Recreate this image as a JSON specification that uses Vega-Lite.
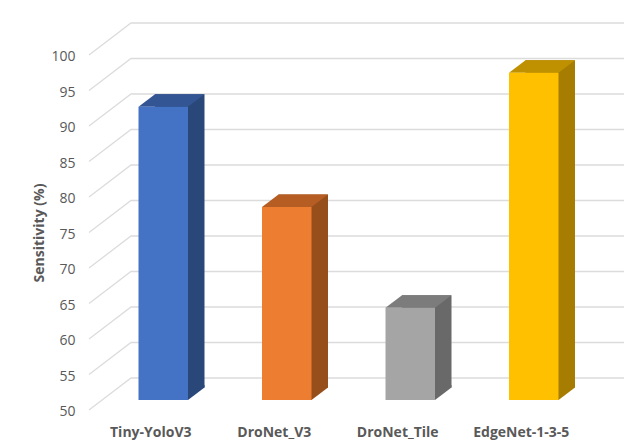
{
  "$schema": "https://vega.github.io/schema/vega-lite/v6.json",
  "width": 494,
  "height": 355,
  "autosize": "none",
  "padding": {"left": 89, "top": 55, "right": 41, "bottom": 34},
  "background": "white",
  "config": {"view": {"stroke": null}},
  "datasets": {
    "bars": [
      {"model": "Tiny-YoloV3", "sensitivity": 91.3},
      {"model": "DroNet_V3", "sensitivity": 77.2},
      {"model": "DroNet_Tile", "sensitivity": 63},
      {"model": "EdgeNet-1-3-5", "sensitivity": 96.1}
    ],
    "ticks": [
      {"tick": 50}, {"tick": 55}, {"tick": 60}, {"tick": 65}, {"tick": 70}, {"tick": 75},
      {"tick": 80}, {"tick": 85}, {"tick": 90}, {"tick": 95}, {"tick": 100}
    ]
  },
  "resolve": {"scale": {"color": "independent"}},
  "layer": [
    {
      "mark": {"type": "rule", "stroke": "#eeeeee", "strokeWidth": 1, "clip": false},
      "encoding": {"x": {"value": -83.5}, "y": {"value": -52}, "y2": {"value": 389}}
    },
    {
      "data": {"name": "ticks"},
      "mark": {"type": "point", "shape": "M0 0L42 -32L536 -32", "size": 4, "filled": false, "stroke": "#dcdcdc", "strokeWidth": 1.3, "opacity": 1, "clip": false},
      "encoding": {
        "x": {"value": 0},
        "y": {"field": "tick", "type": "quantitative", "scale": {"domain": [50, 100], "zero": false, "nice": false},
          "axis": {"values": [50, 55, 60, 65, 70, 75, 80, 85, 90, 95, 100], "title": "Sensitivity (%)", "titleFont": "Open Sans", "titleFontSize": 14, "titleFontWeight": "bold", "titleColor": "#595959", "titlePadding": 4, "labelFont": "Open Sans", "labelFontSize": 14, "labelColor": "#595959", "labelPadding": 14, "labelOffset": 1.5, "labelOverlap": false, "labelFlush": false, "domain": false, "ticks": false, "grid": false}}
      }
    },
    {
      "data": {"name": "bars"},
      "mark": {"type": "bar", "width": 49.5, "xOffset": 29, "x2Offset": 29, "yOffset": -22.5, "y2Offset": -22.5},
      "encoding": {
        "x": {"field": "model", "type": "nominal", "sort": null, "scale": {"paddingInner": 0, "paddingOuter": 0},
          "axis": {"title": null, "labelAngle": 0, "labelFont": "Open Sans", "labelFontSize": 14, "labelFontWeight": "bold", "labelColor": "#595959", "labelPadding": 15, "labelOverlap": false, "domain": false, "ticks": false, "grid": false}},
        "y": {"field": "sensitivity", "type": "quantitative",
          "axis": {"values": [50, 55, 60, 65, 70, 75, 80, 85, 90, 95, 100], "title": "Sensitivity (%)", "titleFont": "Open Sans", "titleFontSize": 14, "titleFontWeight": "bold", "titleColor": "#595959", "titlePadding": 4, "labelFont": "Open Sans", "labelFontSize": 14, "labelColor": "#595959", "labelPadding": 14, "labelOffset": 1.5, "labelOverlap": false, "labelFlush": false, "domain": false, "ticks": false, "grid": false}},
        "y2": {"datum": 50},
        "color": {"field": "model", "type": "nominal", "legend": null, "scale": {"domain": ["Tiny-YoloV3", "DroNet_V3", "DroNet_Tile", "EdgeNet-1-3-5"], "range": ["#2A4779", "#964F1B", "#696969", "#A67D00"]}}
      }
    },
    {
      "data": {"name": "bars"},
      "mark": {"type": "point", "shape": "M24 0L24.75 0L41.25 -12.5L41.25 -15L24 -15Z", "size": 4, "filled": true, "opacity": 1, "xOffset": 12.5, "yOffset": -10},
      "encoding": {
        "x": {"field": "model", "type": "nominal", "sort": null},
        "y": {"datum": 50, "type": "quantitative",
          "axis": {"values": [50, 55, 60, 65, 70, 75, 80, 85, 90, 95, 100], "title": "Sensitivity (%)", "titleFont": "Open Sans", "titleFontSize": 14, "titleFontWeight": "bold", "titleColor": "#595959", "titlePadding": 4, "labelFont": "Open Sans", "labelFontSize": 14, "labelColor": "#595959", "labelPadding": 14, "labelOffset": 1.5, "labelOverlap": false, "labelFlush": false, "domain": false, "ticks": false, "grid": false}},
        "color": {"field": "model", "type": "nominal", "legend": null, "scale": {"domain": ["Tiny-YoloV3", "DroNet_V3", "DroNet_Tile", "EdgeNet-1-3-5"], "range": ["#2A4779", "#964F1B", "#696969", "#A67D00"]}}
      }
    },
    {
      "data": {"name": "bars"},
      "mark": {"type": "point", "shape": "M-24.75 0L24.75 0L41.25 -12.5L-8.25 -12.5Z", "size": 4, "filled": true, "opacity": 1, "xOffset": 12.5, "yOffset": -10},
      "encoding": {
        "x": {"field": "model", "type": "nominal", "sort": null},
        "y": {"field": "sensitivity", "type": "quantitative",
          "axis": {"values": [50, 55, 60, 65, 70, 75, 80, 85, 90, 95, 100], "title": "Sensitivity (%)", "titleFont": "Open Sans", "titleFontSize": 14, "titleFontWeight": "bold", "titleColor": "#595959", "titlePadding": 4, "labelFont": "Open Sans", "labelFontSize": 14, "labelColor": "#595959", "labelPadding": 14, "labelOffset": 1.5, "labelOverlap": false, "labelFlush": false, "domain": false, "ticks": false, "grid": false}},
        "color": {"field": "model", "type": "nominal", "legend": null, "scale": {"domain": ["Tiny-YoloV3", "DroNet_V3", "DroNet_Tile", "EdgeNet-1-3-5"], "range": ["#335593", "#B55D22", "#7C7C7C", "#BF9000"]}}
      }
    },
    {
      "data": {"name": "bars"},
      "mark": {"type": "bar", "width": 49.5, "xOffset": 12.5, "x2Offset": 12.5, "yOffset": -10, "y2Offset": -10},
      "encoding": {
        "x": {"field": "model", "type": "nominal", "sort": null},
        "y": {"field": "sensitivity", "type": "quantitative",
          "axis": {"values": [50, 55, 60, 65, 70, 75, 80, 85, 90, 95, 100], "title": "Sensitivity (%)", "titleFont": "Open Sans", "titleFontSize": 14, "titleFontWeight": "bold", "titleColor": "#595959", "titlePadding": 4, "labelFont": "Open Sans", "labelFontSize": 14, "labelColor": "#595959", "labelPadding": 14, "labelOffset": 1.5, "labelOverlap": false, "labelFlush": false, "domain": false, "ticks": false, "grid": false}},
        "y2": {"datum": 50},
        "color": {"field": "model", "type": "nominal", "legend": null, "scale": {"domain": ["Tiny-YoloV3", "DroNet_V3", "DroNet_Tile", "EdgeNet-1-3-5"], "range": ["#4472C4", "#ED7D31", "#A5A5A5", "#FFC000"]}}
      }
    }
  ]
}
